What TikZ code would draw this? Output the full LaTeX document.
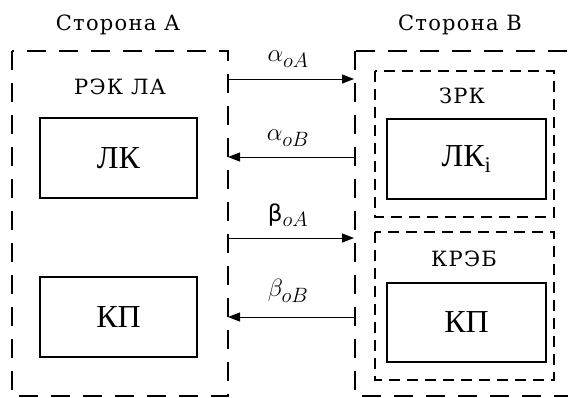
\documentclass[tikz,border=0pt]{standalone}
\usepackage{fontspec}
\setmainfont{Liberation Serif}
\newfontfamily\labfont[LetterSpace=6]{DejaVu Serif}
\newfontfamily\gkfont{DejaVu Sans}
\usetikzlibrary{arrows.meta}
\begin{document}
\begin{tikzpicture}[x=1pt,y=-1pt,
  outer/.style={draw, line width=1.3pt, dash pattern=on 19pt off 13pt},
  inner/.style={draw, line width=1.2pt, dash pattern=on 11pt off 7pt},
  blk/.style={draw, line width=1.2pt, minimum width=157pt, minimum height=80pt, inner sep=0pt, font=\fontsize{32}{34}\selectfont},
  lab/.style={font=\labfont\fontsize{21}{23}\selectfont, anchor=base, inner sep=0pt},
  sig/.style={line width=1pt, -{Triangle[length=12pt,width=9pt]}},
  glab/.style={font=\fontsize{28}{30}\selectfont, inner sep=0pt}]
\useasboundingbox (0,0) rectangle (568,397);
% side frames
\draw[outer] (12,51) rectangle (228,396);
\draw[outer] (355,51) rectangle (580,396);
\draw[inner] (375,71) rectangle (554,217);
\draw[inner] (375,232) rectangle (554,380);
% titles
\node[lab] (tA) at (118,30) {Сторона А};
\node[lab] (tB) at (460,30) {Сторона В};
\node[lab] (rek) at (120,94) {РЭК ЛА};
\node[lab] (zrk) at (462,103) {ЗРК};
\node[lab] (kreb) at (464,266) {КРЭБ};
% blocks
\node[blk] (lk) at (118.5,158) {ЛК};
\node[blk] (kpA) at (118.5,317) {КП};
\node[blk, minimum width=159pt] (lki) at (466.5,159) {ЛК$_{\mathrm{i}}$};
\node[blk, minimum width=159pt, minimum height=79pt] (kpB) at (466.5,322.5) {КП};
% connector end points on the frames
\coordinate (a1s) at (228,79);  \coordinate (a1e) at (354,79);
\coordinate (a2s) at (354,157); \coordinate (a2e) at (228,157);
\coordinate (b1s) at (228,238); \coordinate (b1e) at (354,238);
\coordinate (b2s) at (354,317); \coordinate (b2e) at (228,317);
\draw[sig] (a1s) -- (a1e);
\draw[sig] (a2s) -- (a2e);
\draw[sig] (b1s) -- (b1e);
\draw[sig] (b2s) -- (b2e);
% signal labels
\node[glab] (la1) at (288,59) {$\alpha_{oA}$};
\node[glab] (la2) at (288,138) {$\alpha_{oB}$};
\node[glab] (lb1) at (288,215) {{\gkfont\fontsize{23}{25}\selectfont β}$_{oA}$};
\node[glab] (lb2) at (288,291) {$\beta_{oB}$};
\end{tikzpicture}
\end{document}
